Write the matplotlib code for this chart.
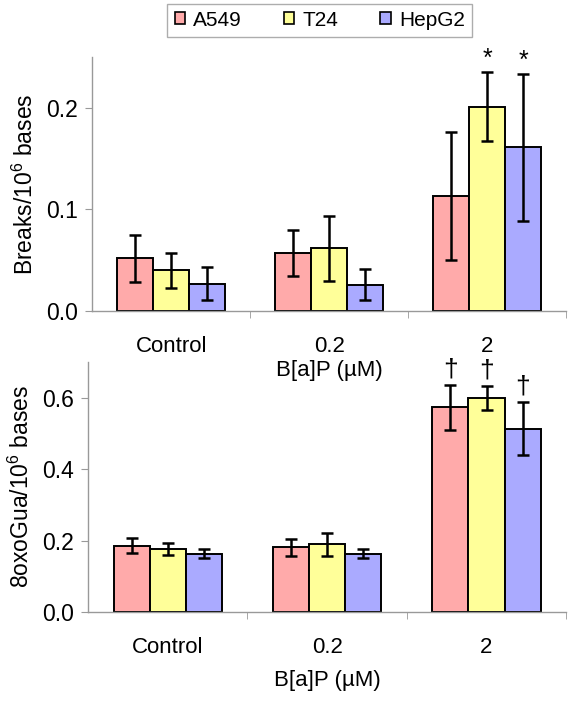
import numpy as np
import matplotlib
matplotlib.use('Agg')
import matplotlib.pyplot as plt
from matplotlib.patches import Patch

plt.rcParams['font.family'] = ['Liberation Sans', 'DejaVu Sans']
plt.rcParams['mathtext.fontset'] = 'custom'
plt.rcParams['mathtext.rm'] = 'Liberation Sans'

# data
groups = ['Control', '0.2', '2']
cells = ['A549', 'T24', 'HepG2']
colors = ['#FFAAAA', '#FFFF99', '#AAAAFF']

breaks_a549 = [0.052, 0.057, 0.113]
breaks_t24 = [0.040, 0.062, 0.201]
breaks_hepg2 = [0.027, 0.026, 0.161]
breaks_a549_err = [0.023, 0.023, 0.063]
breaks_t24_err = [0.017, 0.032, 0.034]
breaks_hepg2_err = [0.016, 0.015, 0.072]
breaks_sig = [['', '', ''], ['', '', ''], ['', '*', '*']]

oxo_a549 = [0.185, 0.181, 0.573]
oxo_t24 = [0.176, 0.190, 0.600]
oxo_hepg2 = [0.163, 0.163, 0.513]
oxo_a549_err = [0.021, 0.023, 0.063]
oxo_t24_err = [0.016, 0.032, 0.034]
oxo_hepg2_err = [0.013, 0.013, 0.074]
oxo_sig = [['', '', ''], ['', '', ''], ['\u2020', '\u2020', '\u2020']]

fig = plt.figure(figsize=(5.76, 7.01), dpi=100)
ax1 = fig.add_axes([0.160, 0.5563, 0.823, 0.3623])
ax2 = fig.add_axes([0.153, 0.127, 0.830, 0.3566])
ax2.patch.set_alpha(0)

width = 0.227
x = np.arange(len(groups))


def panel(ax, vals, errs, sig, ylim, yticks, ylabel, sig_size, sig_off, xpad):
    for i, (v, e) in enumerate(zip(vals, errs)):
        xs = x + (i - 1) * width
        ax.bar(xs, v, width, color=colors[i], edgecolor='black', linewidth=1.4,
               yerr=e, error_kw=dict(ecolor='black', elinewidth=1.8,
                                     capsize=4, capthick=1.8), zorder=2)
        for g in range(len(groups)):
            s = sig[g][i]
            if s:
                ax.annotate(s, (xs[g], v[g] + e[g]), xytext=(0, sig_off),
                            textcoords='offset points', ha='center',
                            va='bottom', fontsize=sig_size, clip_on=False)
    ax.set_xlim(-0.5, 2.5)
    ax.set_ylim(*ylim)
    ax.set_yticks(yticks)
    ax.set_yticklabels(['%.1f' % t for t in yticks], fontsize=16.5)
    ax.set_xticks(x)
    ax.set_xticklabels(groups, fontsize=16)
    ax.set_xticks([0.5, 1.5, 2.5], minor=True)
    ax.tick_params(axis='x', which='major', length=0, pad=18)
    ax.tick_params(axis='x', which='minor', length=5, color='#999999', direction='out')
    ax.tick_params(axis='y', length=5, color='#999999', pad=5)
    ax.set_ylabel(ylabel, fontsize=16.5, labelpad=6)
    ax.set_xlabel('B[a]P (\u00b5M)', fontsize=16, labelpad=xpad)
    for sp in ['top', 'right']:
        ax.spines[sp].set_visible(False)
    for sp in ['left', 'bottom']:
        ax.spines[sp].set_color('#999999')
        ax.spines[sp].set_linewidth(1.0)


panel(ax1, [breaks_a549, breaks_t24, breaks_hepg2],
      [breaks_a549_err, breaks_t24_err, breaks_hepg2_err], breaks_sig,
      (0, 0.25), [0.0, 0.1, 0.2], r'Breaks/10$^\mathregular{6}$ bases', 18, 1, 2)
panel(ax2, [oxo_a549, oxo_t24, oxo_hepg2],
      [oxo_a549_err, oxo_t24_err, oxo_hepg2_err], oxo_sig,
      (0, 0.7), [0.0, 0.2, 0.4, 0.6], r'8oxoGua/10$^\mathregular{6}$ bases', 19, 2.5, 9)

handles = [Patch(facecolor=c, edgecolor='black', linewidth=1.2) for c in colors]
leg = fig.legend(handles, cells, loc='center', bbox_to_anchor=(0.555, 0.971),
                 ncol=3, fontsize=15, frameon=True, fancybox=False,
                 handlelength=0.5, handleheight=0.5, handletextpad=0.4,
                 columnspacing=2.0, borderpad=0.35)
leg.get_frame().set_edgecolor('#999999')
leg.get_frame().set_linewidth(1.0)

fig.savefig('out.png', dpi=100)
